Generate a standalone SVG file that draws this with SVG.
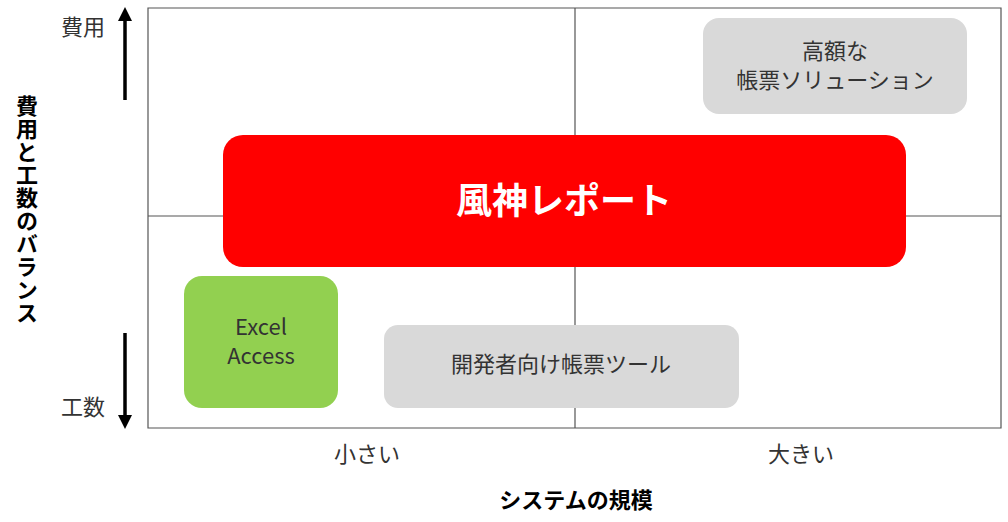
<svg xmlns="http://www.w3.org/2000/svg" width="1008" height="522" viewBox="0 0 1008 522">
<style>
text{font-family:"Noto Sans CJK JP","Noto Sans",sans-serif;fill:#333;text-anchor:middle}
.g{fill:#d9d9d9}
.t{font-size:22px}
.b{font-weight:bold;fill:#000}
</style>
<defs><marker id="ah" viewBox="0 0 10 10" refX="5" refY="5" markerWidth="4" markerHeight="4" orient="auto"><path d="M0,0L10,5L0,10z" fill="#000"/></marker></defs>
<rect x="0" y="0" width="1008" height="522" fill="#fff"/>
<g id="axes" stroke="#555" stroke-width="1.2" fill="none">
<path d="M148,8H1001V428H148Z"/>
<path d="M575,8V428M148,216H1001"/>
</g>
<g id="connectors" stroke="#000" stroke-width="3.5">
<line x1="125" y1="100" x2="125" y2="14" marker-end="url(#ah)"/>
<line x1="125" y1="333" x2="125" y2="422" marker-end="url(#ah)"/>
</g>
<text x="83" y="35" class="t">費用</text>
<text x="83" y="415" class="t">工数</text>
<text x="27" y="95" class="b" style="font-size:22px;writing-mode:vertical-rl;text-anchor:start;letter-spacing:1px">費用と工数のバランス</text>
<g id="n-high"><rect class="g" x="703" y="18" width="264" height="96" rx="16"/>
<text x="835" y="59" class="t">高額な</text><text x="835" y="88" class="t">帳票ソリューション</text></g>
<g id="n-fujin"><rect x="223" y="135" width="683" height="132" rx="20" fill="#ff0000"/>
<text x="564" y="214" style="font-size:36px;font-weight:bold;fill:#fff">風神レポート</text></g>
<g id="n-excel"><rect x="184" y="276" width="154" height="132" rx="18" fill="#92d050"/>
<text x="261" y="335" class="t">Excel</text><text x="261" y="364" class="t">Access</text></g>
<g id="n-dev"><rect class="g" x="384" y="325" width="355" height="83" rx="14"/>
<text x="561" y="372" class="t">開発者向け帳票ツール</text></g>
<text x="367" y="462" class="t">小さい</text>
<text x="801" y="462" class="t">大きい</text>
<text x="576" y="508" class="b" style="font-size:22px">システムの規模</text>
</svg>
